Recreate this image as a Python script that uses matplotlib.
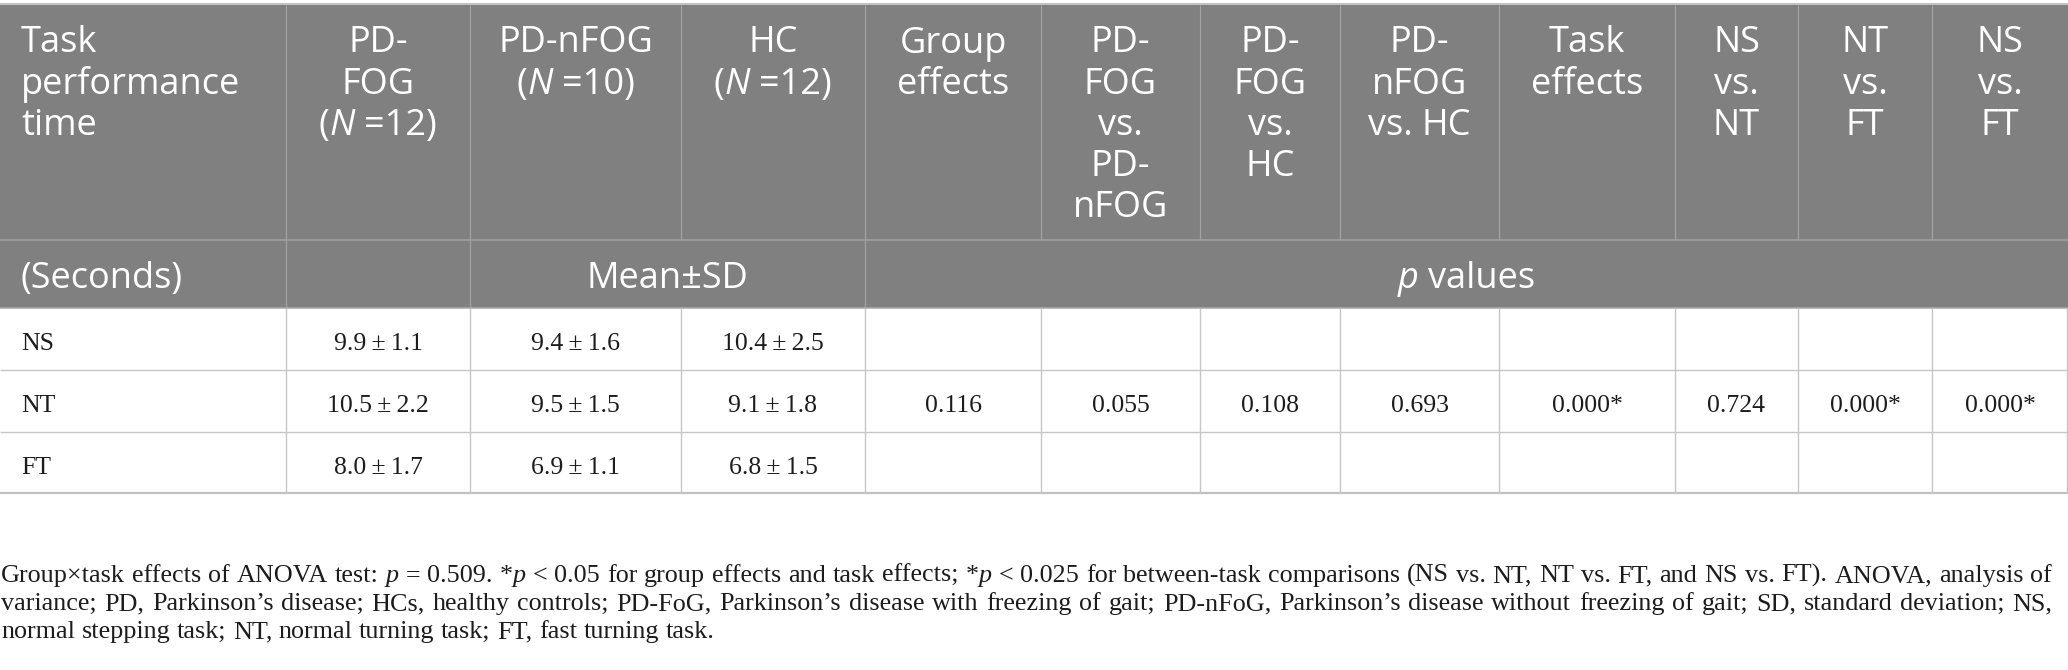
import matplotlib
matplotlib.use("Agg")
import matplotlib.pyplot as plt

# ---------------- data ----------------
tasks = ["NS", "NT", "FT"]
pd_fog_mean = [9.9, 10.5, 8.0]
pd_fog_sd = [1.1, 2.2, 1.7]
pd_nfog_mean = [9.4, 9.5, 6.9]
pd_nfog_sd = [1.6, 1.5, 1.1]
hc_mean = [10.4, 9.1, 6.8]
hc_sd = [2.5, 1.8, 1.5]
# p values (reported on the NT row)
p_labels = ["Group effects", "PD-FOG vs. PD-nFOG", "PD-FOG vs. HC", "PD-nFOG vs. HC",
            "Task effects", "NS vs. NT", "NT vs. FT", "NS vs. FT"]
p_vals = [0.116, 0.055, 0.108, 0.693, 0.000, 0.724, 0.000, 0.000]
p_sig = [False, False, False, False, True, False, True, True]
p_row = 1

footnote_lines = [
    "Group×task effects of ANOVA test: $p$ = 0.509. *$p$ < 0.05 for group effects and task effects; "
    "*$p$ < 0.025 for between-task comparisons (NS vs. NT, NT vs. FT, and NS vs. FT). ANOVA, analysis of",
    "variance; PD, Parkinson’s disease; HCs, healthy controls; PD-FoG, Parkinson’s disease with freezing of gait; "
    "PD-nFoG, Parkinson’s disease without freezing of gait; SD, standard deviation; NS,",
    "normal stepping task; NT, normal turning task; FT, fast turning task.",
]

# ---------------- layout ----------------
W, H = 2068, 670
col_edges = [0, 286, 470, 681, 865, 1041, 1200, 1340, 1499, 1675, 1798, 1932, 2068]
y_top, y_h1, y_h2 = 5, 239.5, 308
row_edges = [308, 369.5, 431.5, 492.5]
HEAD_BG = "#7f807f"
HEAD_LINE = "#a2a3a2"
BODY_LINE = "#c6c6c6"
SANS = "Open Sans"
SERIF = "Liberation Serif"
HEAD_FS = 26.0
BODY_FS = 18.5
FOOT_FS0 = 15.0

fig = plt.figure(figsize=(W / 100, H / 100), dpi=100)
ax = fig.add_axes([0, 0, 1, 1])
ax.set_xlim(0, W)
ax.set_ylim(H, 0)
ax.axis("off")
renderer = fig.canvas.get_renderer()
PX = 72 / 100.0  # points per pixel


def measure(s, family, size, italic=False):
    """advance width in pixels using bar-bracket trick"""
    st = "italic" if italic else "normal"
    t1 = ax.text(0, 0, "|" + s + "|", family=family, fontsize=size, style=st)
    t2 = ax.text(0, 0, "||", family=family, fontsize=size, style=st)
    w = t1.get_window_extent(renderer).width - t2.get_window_extent(renderer).width
    t1.remove()
    t2.remove()
    return w


def parse_words(text):
    """split text into words; each word -> list of (segment, italic)"""
    words = []
    for w in text.split(" "):
        if not w:
            continue
        segs = []
        parts = w.split("$")
        for i, p in enumerate(parts):
            if p:
                segs.append((p, i % 2 == 1))
        words.append(segs)
    return words


def word_width(word, family, size):
    return sum(measure(s, family, size, it) for s, it in word)


def natural_width(words, family, size):
    return sum(word_width(w, family, size) for w in words) + measure(" ", family, size) * (len(words) - 1)


def draw_words(words, x, y, family, size, color, ha="left", width=None):
    widths = [word_width(w, family, size) for w in words]
    space = measure(" ", family, size)
    total = sum(widths) + space * (len(words) - 1)
    gap = space
    if width is not None and len(words) > 1:
        gap = (width - sum(widths)) / (len(words) - 1)
        total = width
    if ha == "center":
        x0 = x - total / 2
    elif ha == "right":
        x0 = x - total
    else:
        x0 = x
    cx = x0
    for w, ww in zip(words, widths):
        sx = cx
        for s, it in w:
            ax.text(sx, y, s, family=family, fontsize=size, color=color,
                    style="italic" if it else "normal", ha="left", va="baseline")
            sx += measure(s, family, size, it)
        cx += ww + gap


def hline(y, x0, x1, color, lw_px):
    ax.plot([x0, x1], [y, y], color=color, lw=lw_px * PX, solid_capstyle="butt")


def vline(x, y0, y1, color, lw_px):
    ax.plot([x, x], [y0, y1], color=color, lw=lw_px * PX, solid_capstyle="butt")


# ---------------- header background & grid ----------------
ax.add_patch(plt.Rectangle((0, y_top), W, y_h2 - y_top, facecolor=HEAD_BG, edgecolor="none"))
hline(4.2, 0, W, "#b3b3b3", 1.6)
for xe in col_edges[1:-1]:
    vline(xe, y_top, y_h1, HEAD_LINE, 1.2)
hline(y_h1, 0, W, HEAD_LINE, 1.5)
for xe in [286, 470, 865]:
    vline(xe, y_h1, y_h2, HEAD_LINE, 1.2)
hline(y_h2, 0, W, "#a9aaa9", 1.6)

# ---------------- body grid ----------------
for ye in row_edges[1:-1]:
    hline(ye, 0, W, BODY_LINE, 1.4)
hline(row_edges[-1], 0, W, "#c0c0c0", 2.2)
for xe in col_edges[1:-1]:
    vline(xe, y_h2, row_edges[-1], BODY_LINE, 1.4)
vline(2066.5, y_h2, row_edges[-1], BODY_LINE, 1.4)

# ---------------- header text ----------------
head_lines = [
    ["Task", "performance", "time"],
    ["PD-", "FOG", "($N$ =12)"],
    ["PD-nFOG", "($N$ =10)"],
    ["HC", "($N$ =12)"],
    ["Group", "effects"],
    ["PD-", "FOG", "vs.", "PD-", "nFOG"],
    ["PD-", "FOG", "vs.", "HC"],
    ["PD-", "nFOG", "vs. HC"],
    ["Task", "effects"],
    ["NS", "vs.", "NT"],
    ["NT", "vs.", "FT"],
    ["NS", "vs.", "FT"],
]
base0, lstep = 52.5, 41.2
for ci, lines in enumerate(head_lines):
    x0, x1 = col_edges[ci], col_edges[ci + 1]
    for li, ln in enumerate(lines):
        yb = base0 + li * lstep
        if ci == 0:
            draw_words(parse_words(ln), 21, yb, SANS, HEAD_FS, "white", ha="left")
        else:
            draw_words(parse_words(ln), (x0 + x1) / 2, yb, SANS, HEAD_FS, "white", ha="center")

yb2 = 288
draw_words(parse_words("(Seconds)"), 21, yb2, SANS, HEAD_FS, "white")
draw_words(parse_words("Mean±SD"), (470 + 865) / 2, yb2, SANS, HEAD_FS, "white", ha="center")
draw_words(parse_words("$p$ values"), (865 + 2068) / 2, yb2, SANS, HEAD_FS, "white", ha="center")

# ---------------- body text ----------------
BODY_COLOR = "#1c1c1c"
for ri, task in enumerate(tasks):
    yb = (row_edges[ri] + row_edges[ri + 1]) / 2 + 11.5
    ax.text(21, yb, task, family=SERIF, fontsize=BODY_FS, color=BODY_COLOR, va="baseline")
    for ci, (m, s) in enumerate([(pd_fog_mean, pd_fog_sd), (pd_nfog_mean, pd_nfog_sd), (hc_mean, hc_sd)]):
        cx = (col_edges[ci + 1] + col_edges[ci + 2]) / 2
        ax.text(cx, yb, f"{m[ri]:.1f}\u2009±\u2009{s[ri]:.1f}", family=SERIF, fontsize=BODY_FS,
                color=BODY_COLOR, ha="center", va="baseline")
    if ri == p_row:
        for pi, (pv, sg) in enumerate(zip(p_vals, p_sig)):
            cx = (col_edges[pi + 4] + col_edges[pi + 5]) / 2
            ax.text(cx, yb, f"{pv:.3f}" + ("*" if sg else ""), family=SERIF, fontsize=BODY_FS,
                    color=BODY_COLOR, ha="center", va="baseline")

# ---------------- footnote ----------------
foot_words = [parse_words(t) for t in footnote_lines]
nat = natural_width(foot_words[0], SERIF, FOOT_FS0)
FOOT_FS = FOOT_FS0 * 2051 / nat
foot_base = [582, 610, 638]
for li, ln in enumerate(foot_words):
    if li < len(foot_words) - 1:
        draw_words(ln, 1, foot_base[li], SERIF, FOOT_FS, "#1c1c1c", width=2051)
    else:
        draw_words(ln, 1, foot_base[li], SERIF, FOOT_FS, "#1c1c1c")

fig.savefig("out.png", dpi=100)
